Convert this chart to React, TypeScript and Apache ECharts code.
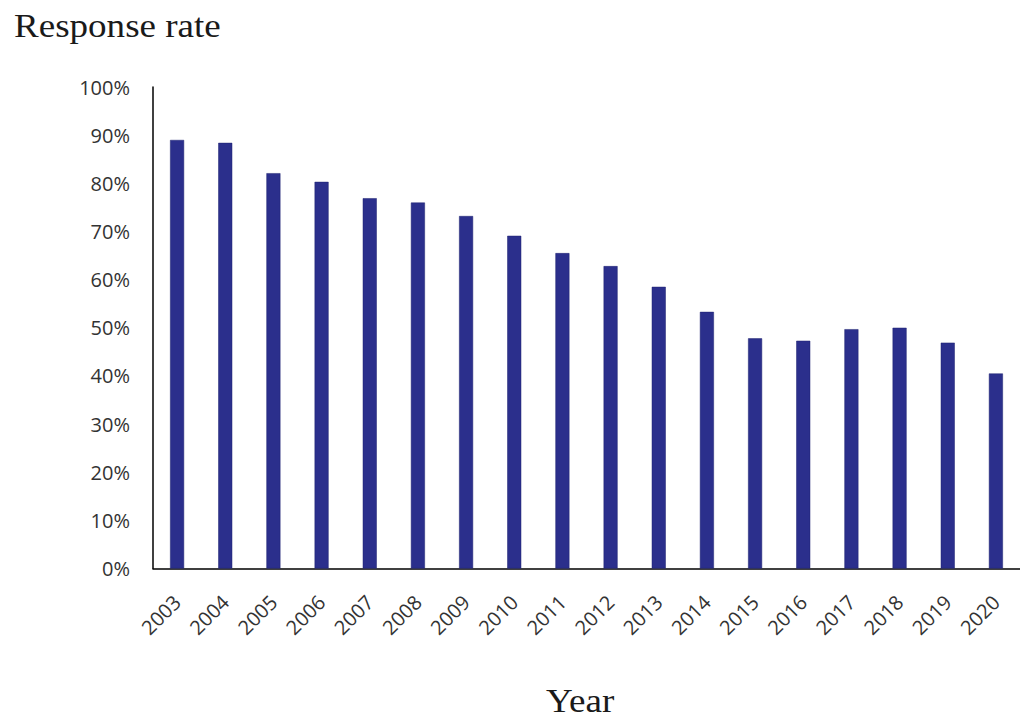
import React, { useEffect, useRef } from "react";
import * as echarts from "echarts";

const years = ["2003","2004","2005","2006","2007","2008","2009","2010","2011","2012","2013","2014","2015","2016","2017","2018","2019","2020"];
const responseRate = [89.0, 88.4, 82.1, 80.3, 76.9, 76.0, 73.2, 69.1, 65.5, 62.8, 58.5, 53.3, 47.8, 47.3, 49.7, 50.0, 46.9, 40.5];
const yTicks = [0, 10, 20, 30, 40, 50, 60, 70, 80, 90, 100];

export default function App() {
  const ref = useRef<HTMLDivElement>(null);
  useEffect(() => {
    if (!ref.current) return;
    const chart = echarts.init(ref.current, null, { renderer: "svg" });
    chart.setOption({
      animation: false,
      backgroundColor: "#ffffff",
      grid: { left: 153, top: 87, bottom: 150.5, right: -4, containLabel: false },
      xAxis: {
        type: "category",
        data: years,
        axisLine: { show: true, lineStyle: { color: "#000", width: 1.5 } },
        axisTick: { show: false },
        axisLabel: {
          rotate: 45,
          margin: 30,
          fontFamily: "Open Sans",
          fontSize: 20,
          color: "#333",
          interval: 0,
        },
      },
      yAxis: {
        type: "value",
        min: 0,
        max: 100,
        interval: 10,
        axisLine: { show: true, lineStyle: { color: "#000", width: 1.5 } },
        axisTick: { show: false },
        splitLine: { show: false },
        axisLabel: {
          margin: 23,
          fontFamily: "Open Sans",
          fontSize: 20,
          color: "#333",
          formatter: (v: number) => (yTicks.includes(v) ? v + "%" : ""),
        },
      },
      series: [
        {
          type: "bar",
          data: responseRate,
          barWidth: 14,
          itemStyle: { color: "#2b2f8c", borderColor: "#1f2270", borderWidth: 0.5 },
        },
      ],
      graphic: [
        {
          type: "text",
          x: 14,
          y: 9,
          scaleX: 1.09,
          style: { text: "Response rate", font: '34px "Liberation Serif"', fill: "#1a1a1a" },
        },
        {
          type: "text",
          x: 546,
          y: 684,
          scaleX: 1.09,
          style: { text: "Year", font: '34px "Liberation Serif"', fill: "#1a1a1a" },
        },
      ],
    });
    return () => chart.dispose();
  }, []);
  return (
    <div
      ref={ref}
      style={{ position: "fixed", left: 0, top: 0, width: 1020, height: 719, background: "#fff" }}
    />
  );
}
